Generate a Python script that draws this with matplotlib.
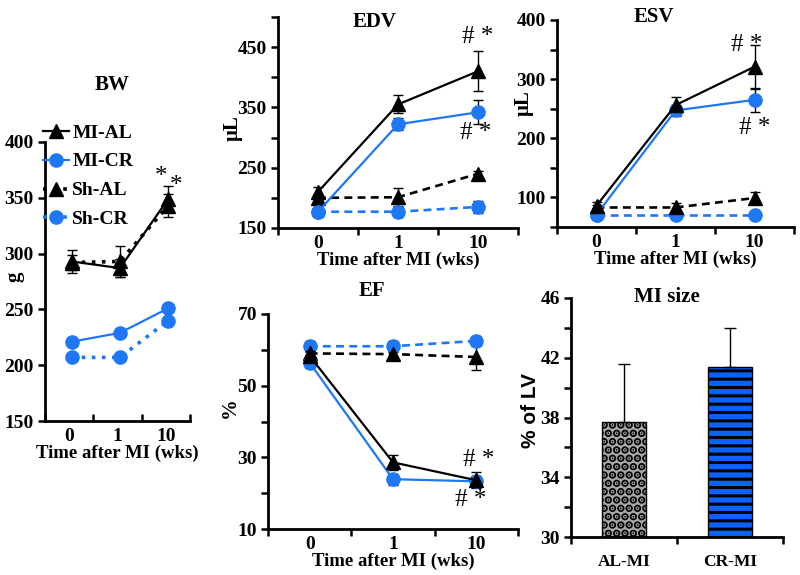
import numpy as np
import matplotlib
matplotlib.use("Agg")
import matplotlib.pyplot as plt
from matplotlib.lines import Line2D

plt.rcParams['font.family'] = ['Liberation Serif', 'DejaVu Serif']
plt.rcParams['font.weight'] = 'bold'
plt.rcParams['hatch.linewidth'] = 2.2

BLUE = '#1E78F5'
BAR_BLUE = '#0A62FF'

times = ['0', '1', '10']
groups = ['MI-AL', 'MI-CR', 'Sh-AL', 'Sh-CR']

# Body weight (g)
bw_mi_al = [293, 287, 349]
bw_mi_al_err = [10, 8, 12]
bw_mi_cr = [221, 229, 251]
bw_mi_cr_err = [3, 3, 3]
bw_sh_al = [292, 293, 343]
bw_sh_al_err = [7, 14, 10]
bw_sh_cr = [207, 207, 240]
bw_sh_cr_err = [2, 2, 2]

# EDV (uL)
edv_mi_al = [210, 355, 410]
edv_mi_al_err = [8, 15, 33]
edv_mi_cr = [177, 322, 342]
edv_mi_cr_err = [6, 10, 20]
edv_sh_al = [200, 201, 240]
edv_sh_al_err = [5, 15, 5]
edv_sh_cr = [177, 177, 185]
edv_sh_cr_err = [8, 8, 10]

# ESV (uL)
esv_mi_al = [86, 256, 321]
esv_mi_al_err = [6, 14, 37]
esv_mi_cr = [71, 247, 265]
esv_mi_cr_err = [4, 10, 20]
esv_sh_al = [83, 83, 99]
esv_sh_al_err = [4, 8, 10]
esv_sh_cr = [70, 70, 70]
esv_sh_cr_err = [3, 3, 3]

# EF (%)
ef_mi_al = [58.3, 28.6, 23.6]
ef_mi_al_err = [1.5, 2.0, 2.2]
ef_mi_cr = [56.4, 23.9, 23.3]
ef_mi_cr_err = [1.5, 1.5, 1.5]
ef_sh_al = [59.0, 58.8, 58.0]
ef_sh_al_err = [1.0, 1.0, 3.5]
ef_sh_cr = [61.0, 61.0, 62.5]
ef_sh_cr_err = [1.5, 1.5, 1.5]

# MI size (% of LV)
mi_groups = ['AL-MI', 'CR-MI']
mi_size = [37.7, 41.4]
mi_size_err = [3.9, 2.6]

fig = plt.figure(figsize=(8, 5.75), dpi=100)

def fx(px):
    return px / 800.0

def fy(py):
    return 1 - py / 575.0

def make_ax(l, r, t, b):
    return fig.add_axes([fx(l), fy(b), fx(r) - fx(l), fy(t) - fy(b)])

def style_ax(ax, ylim, yticks, ylabels, xdir='out', tsize=14):
    for s in ['top', 'right']:
        ax.spines[s].set_visible(False)
    for s in ['left', 'bottom']:
        ax.spines[s].set_linewidth(2.0)
    ax.set_ylim(*ylim)
    ax.set_yticks(yticks)
    ax.set_yticklabels(ylabels)
    ax.set_xlim(0, 3)
    ax.set_xticks([0, 1, 2, 3])
    ax.set_xticklabels([])
    ax.set_xticks(np.arange(3) + 0.5, minor=True)
    ax.set_xticklabels(times, minor=True)
    ax.tick_params(axis='x', which='minor', length=0, labelsize=tsize, pad=5)
    ax.tick_params(axis='x', which='major', direction=xdir, length=5, width=1.8)
    ax.tick_params(axis='y', direction='out', length=5, width=1.8, labelsize=tsize, pad=3)
    for lab in ax.get_xticklabels(minor=True) + ax.get_yticklabels():
        lab.set_fontweight('bold')

def plot_series(ax, xs, mi_al, mi_al_e, mi_cr, mi_cr_e, sh_al, sh_al_e, sh_cr, sh_cr_e,
                shstyle, shlw):
    ekw = dict(ecolor='black', elinewidth=1.0, capsize=3.5, capthick=1.0)
    ax.errorbar(xs, sh_cr, yerr=sh_cr_e, color=BLUE, ls=shstyle, lw=shlw,
                marker='o', ms=9.5, mec=BLUE, **ekw, zorder=2)
    ax.errorbar(xs, sh_al, yerr=sh_al_e, color='black', ls=shstyle, lw=shlw,
                marker='^', ms=9.5, **ekw, zorder=2)
    ax.errorbar(xs, mi_cr, yerr=mi_cr_e, color=BLUE, ls='-', lw=1.6,
                marker='o', ms=9.5, mec=BLUE, **ekw, zorder=3)
    ax.errorbar(xs, mi_al, yerr=mi_al_e, color='black', ls='-', lw=1.6,
                marker='^', ms=9.5, **ekw, zorder=3)

def title(ax, text, x, y):
    ax.text(x, y, text, transform=ax.transAxes, ha='center', va='center',
            fontsize=15, fontweight='bold')

def xlabel(ax):
    ax.set_xlabel('Time after MI (wks)', fontsize=13.5, fontweight='bold', labelpad=0)

def mark(ax, x, y, dx, dy, text='# *'):
    ax.annotate(text, xy=(x, y), xytext=(dx, dy), textcoords='offset pixels',
                ha='center', va='center', fontsize=18, fontweight='normal')

# ---------------- BW ----------------
ax = make_ax(45, 190, 142, 421)
style_ax(ax, (150, 400), [150, 200, 250, 300, 350, 400],
         ['150', '200', '250', '300', '350', '400'], xdir='in')
xs = np.arange(3) + 0.55
plot_series(ax, xs, bw_mi_al, bw_mi_al_err, bw_mi_cr, bw_mi_cr_err,
            bw_sh_al, bw_sh_al_err, bw_sh_cr, bw_sh_cr_err, (0, (1, 1.8)), 2.6)
title(ax, 'BW', 0.46, 1.204)
xlabel(ax)
ax.set_ylabel('g', fontsize=15, fontweight='bold')
ax.yaxis.set_label_coords(-0.14, 0.516)
mark(ax, xs[2], bw_mi_al[2], -7, 22, '*')
mark(ax, xs[2], bw_sh_al[2], 8, 20, '*')

handles = [
    Line2D([], [], color='black', ls='-', lw=1.6, marker='^', ms=9.5),
    Line2D([], [], color=BLUE, ls='-', lw=1.6, marker='o', ms=9.5),
    Line2D([], [], color='black', ls=(0, (1, 1.8)), lw=2.6, marker='^', ms=9.5),
    Line2D([], [], color=BLUE, ls=(0, (1, 1.8)), lw=2.6, marker='o', ms=9.5),
]
leg = fig.legend(handles, groups, loc='upper left', bbox_to_anchor=(fx(43), fy(124)),
                 frameon=False, handlelength=1.35, handletextpad=0.15,
                 labelspacing=0.58, borderpad=0, borderaxespad=0,
                 prop={'family': 'Liberation Serif', 'weight': 'bold', 'size': 14})

# ---------------- EDV ----------------
ax = make_ax(278, 518, 17, 228)
style_ax(ax, (150, 500), [150, 200, 250, 300, 350, 400, 450, 500],
         ['150', '', '250', '', '350', '', '450', ''])
xs = np.arange(3) + 0.5
plot_series(ax, xs, edv_mi_al, edv_mi_al_err, edv_mi_cr, edv_mi_cr_err,
            edv_sh_al, edv_sh_al_err, edv_sh_cr, edv_sh_cr_err, (0, (3, 2)), 1.9)
title(ax, 'EDV', 0.404, 0.976)
xlabel(ax)
ax.set_ylabel('μL', fontsize=15, fontweight='bold')
ax.yaxis.set_label_coords(-0.146, 0.474)
mark(ax, xs[2], edv_mi_al[2], 0, 34)
mark(ax, xs[2], edv_mi_cr[2], -2, -21)

# ---------------- ESV ----------------
ax = make_ax(557, 794, 20, 227)
style_ax(ax, (50, 400), [50, 100, 150, 200, 250, 300, 350, 400],
         ['', '100', '', '200', '', '300', '', '400'])
xs = np.arange(3) + 0.5
plot_series(ax, xs, esv_mi_al, esv_mi_al_err, esv_mi_cr, esv_mi_cr_err,
            esv_sh_al, esv_sh_al_err, esv_sh_cr, esv_sh_cr_err, (0, (3, 2)), 1.9)
title(ax, 'ESV', 0.41, 1.014)
xlabel(ax)
ax.set_ylabel('μL', fontsize=15, fontweight='bold')
ax.yaxis.set_label_coords(-0.1, 0.6)
mark(ax, xs[2], esv_mi_al[2], -8, 22)
mark(ax, xs[2], esv_mi_cr[2], 0, -28)

# ---------------- EF ----------------
ax = make_ax(268, 518, 314, 529)
style_ax(ax, (10, 70), [10, 20, 30, 40, 50, 60, 70],
         ['10', '', '30', '', '50', '', '70'])
xs = np.arange(3) + 0.5
plot_series(ax, xs, ef_mi_al, ef_mi_al_err, ef_mi_cr, ef_mi_cr_err,
            ef_sh_al, ef_sh_al_err, ef_sh_cr, ef_sh_cr_err, (0, (3, 2)), 1.9)
title(ax, 'EF', 0.416, 1.107)
xlabel(ax)
ax.set_ylabel('%', fontsize=15, fontweight='bold')
ax.yaxis.set_label_coords(-0.112, 0.567)
mark(ax, xs[2], ef_mi_al[2], 2, 20)
mark(ax, xs[2], ef_mi_cr[2], -6, -19)

# ---------------- MI size ----------------
ax = make_ax(571, 783, 298, 537)
for s in ['top', 'right']:
    ax.spines[s].set_visible(False)
for s in ['left', 'bottom']:
    ax.spines[s].set_linewidth(2.0)
ax.set_xlim(0, 2)
ax.set_ylim(30, 46)
ax.set_yticks(np.arange(30, 47, 2))
ax.set_yticklabels(['30', '', '34', '', '38', '', '42', '', '46'])
ax.set_xticks([0, 1, 2])
ax.set_xticklabels([])
xb = np.arange(2) + 0.5
ax.set_xticks(xb, minor=True)
ax.set_xticklabels(mi_groups, minor=True)
ax.tick_params(axis='x', which='minor', length=0, labelsize=12.5, pad=12)
ax.tick_params(axis='x', which='major', direction='out', length=5, width=1.8)
ax.tick_params(axis='y', direction='out', length=5, width=1.8, labelsize=14, pad=3)
for lab in ax.get_xticklabels(minor=True) + ax.get_yticklabels():
    lab.set_fontweight('bold')

bw_ = 0.41
b1 = ax.bar(xb[0], mi_size[0] - 30, bottom=30, width=bw_, facecolor='#a8a8a8',
            edgecolor='black', hatch='..', linewidth=0, zorder=2)
if hasattr(b1[0], 'set_hatch_linewidth'):
    b1[0].set_hatch_linewidth(4.0)
b2 = ax.bar(xb[1], mi_size[1] - 30, bottom=30, width=bw_, facecolor=BAR_BLUE,
            edgecolor='black', hatch='--', linewidth=0, zorder=2)
if hasattr(b2[0], 'set_hatch_linewidth'):
    b2[0].set_hatch_linewidth(2.2)
ax.bar(xb, np.array(mi_size) - 30, bottom=30, width=bw_, fill=False,
       edgecolor='black', linewidth=1.0, zorder=3)
ax.errorbar(xb, mi_size, yerr=[[0, 0], mi_size_err], fmt='none', ecolor='black',
            elinewidth=1.0, capsize=4, capthick=1.0, zorder=4)
title(ax, 'MI size', 0.453, 1.004)
ax.set_ylabel('% of LV', fontsize=15, fontweight='bold', family='Liberation Sans')
ax.yaxis.set_label_coords(-0.146, 0.53)

fig.savefig('out.png', dpi=100)
